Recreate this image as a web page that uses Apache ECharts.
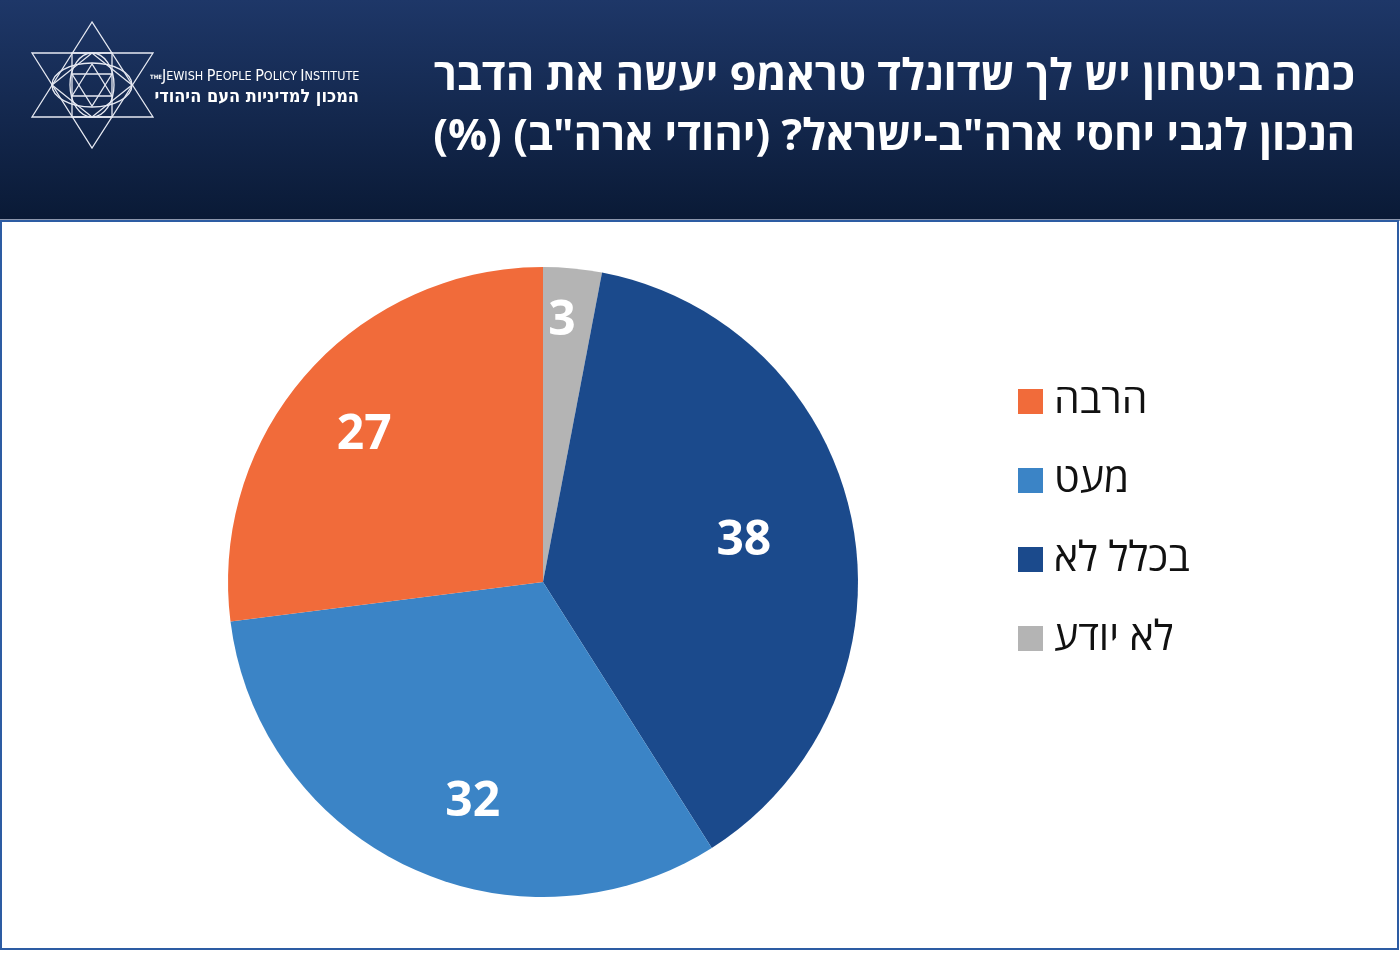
<!DOCTYPE html>
<html>
<head>
<meta charset="utf-8">
<script src="https://cdn.jsdelivr.net/npm/echarts@6/dist/echarts.min.js"></script>
<style>
  html, body { margin: 0; padding: 0; background: #fff; }
  #chart { width: 1400px; height: 953px; }
</style>
</head>
<body>
<div id="chart"></div>
<script>
// 数据 (clockwise from 12 o'clock)
var categories = ['לא יודע', 'בכלל לא', 'מעט', 'הרבה'];
var values = [3, 38, 32, 27];
var colors = ['#b4b4b4', '#1b4a8c', '#3b84c6', '#f16b3a'];
var legendOrder = ['הרבה', 'מעט', 'בכלל לא', 'לא יודע'];
var titleLines = ['כמה ביטחון יש לך שדונלד טראמפ יעשה את הדבר', 'הנכון לגבי יחסי ארה"ב-ישראל? (יהודי ארה"ב) (%)'];
// small label nudges so numbers sit like the original
var labelNudge = [[-3, -29], [-28, 3], [29, 10], [-4, 7]];

var fontHe = '"Open Sans", "Liberation Sans", "DejaVu Sans", sans-serif';

// force right-to-left order for hebrew strings on canvas
function rtl(s) {
  return '\u202B' + s + '\u202C';
}

var chart = echarts.init(document.getElementById('chart'));

// logo lines (decorative)
function logo() {
  var s = { stroke: '#e6e9f2', lineWidth: 1.3, fill: null };
  var els = [];
  els.push({ type: 'polygon', shape: { points: [[92, 22], [32, 117], [153, 117]] }, style: s });
  els.push({ type: 'polygon', shape: { points: [[32, 53], [153, 53], [92, 148]] }, style: s });
  els.push({ type: 'rect', shape: { x: 72, y: 53, width: 40, height: 64 }, style: s });
  els.push({ type: 'polygon', shape: { points: [[92, 64], [72, 96], [112, 96]] }, style: s });
  els.push({ type: 'polygon', shape: { points: [[72, 74], [112, 74], [92, 106]] }, style: s });
  els.push({ type: 'polygon', shape: { points: [[52, 85], [92, 53], [132, 85], [92, 117]] }, style: s });
  els.push({ type: 'ellipse', shape: { cx: 92, cy: 85, rx: 40, ry: 22 }, style: s });
  els.push({ type: 'ellipse', shape: { cx: 92, cy: 85, rx: 22, ry: 32 }, style: s });
  els.push({
    type: 'text', x: 150, y: 77,
    style: {
      text: '{t|THE}{b|J}{s|EWISH }{b|P}{s|EOPLE }{b|P}{s|OLICY }{b|I}{s|NSTITUTE}',
      fill: '#fff', verticalAlign: 'middle',
      rich: {
        t: { fontSize: 6, fill: '#fff', fontFamily: 'Liberation Sans Narrow, DejaVu Sans Condensed', fontWeight: 'bold' },
        b: { fontSize: 16, fill: '#fff', fontFamily: 'Liberation Sans Narrow, DejaVu Sans Condensed' },
        s: { fontSize: 12.5, fill: '#fff', fontFamily: 'Liberation Sans Narrow, DejaVu Sans Condensed' }
      }
    }
  });
  els.push({
    type: 'text', x: 359, y: 97,
    style: { text: rtl('המכון למדיניות העם היהודי'), fill: '#fff', fontSize: 18, fontWeight: 'bold',
      fontFamily: 'Liberation Sans Narrow, DejaVu Sans Condensed', align: 'right', verticalAlign: 'middle' }
  });
  return els;
}

var graphics = [
  {
    type: 'rect', z: -10, shape: { x: 0, y: 0, width: 1400, height: 219 },
    style: { fill: new echarts.graphic.LinearGradient(0, 0, 0, 1, [
      { offset: 0, color: '#1e3768' }, { offset: 1, color: '#0a1a36' }]) }
  },
  { type: 'rect', z: -10, shape: { x: 0, y: 219, width: 1400, height: 2 }, style: { fill: '#8d97ad' } },
  { type: 'rect', z: -9, shape: { x: 1, y: 221, width: 1397, height: 728 }, style: { fill: null, stroke: '#2d5ca3', lineWidth: 2 } },
  {
    type: 'text', x: 1355, y: 78,
    style: { text: rtl(titleLines[0]), fill: '#fff', fontSize: 43.5, fontWeight: 'bold', fontFamily: fontHe, align: 'right', verticalAlign: 'middle' }
  },
  {
    type: 'text', x: 1355, y: 138,
    style: { text: rtl(titleLines[1]), fill: '#fff', fontSize: 43.5, fontWeight: 'bold', fontFamily: fontHe, align: 'right', verticalAlign: 'middle' }
  }
].concat(logo());

var pieData = [];
var labelData = [];
for (var i = 0; i < categories.length; i++) {
  pieData.push({ name: categories[i], value: values[i], itemStyle: { color: colors[i] } });
  labelData.push({ name: categories[i], value: values[i], label: { offset: labelNudge[i] } });
}

var option = {
  animation: false,
  graphic: graphics,
  legend: {
    data: legendOrder,
    orient: 'vertical',
    left: 1018,
    top: 381,
    padding: 0,
    itemWidth: 25,
    itemHeight: 25,
    itemGap: 38,
    icon: 'rect',
    selectedMode: false,
    textStyle: { fontSize: 41, color: '#111', fontFamily: fontHe, padding: [0, 0, 0, 6] }
  },
  series: [
    {
      type: 'pie',
      center: [543, 582],
      radius: [0, 315],
      startAngle: 90,
      clockwise: true,
      silent: true,
      label: { show: false },
      labelLine: { show: false },
      data: pieData
    },
    {
      // transparent ring only carrying value labels
      type: 'pie',
      center: [543, 582],
      radius: [145, 315],
      startAngle: 90,
      clockwise: true,
      silent: true,
      legendHoverLink: false,
      itemStyle: { color: 'rgba(0,0,0,0)' },
      label: {
        show: true, position: 'inside', formatter: '{c}',
        color: '#fff', fontSize: 48, fontWeight: 'bold', fontFamily: fontHe
      },
      labelLine: { show: false },
      data: labelData
    }
  ]
};

chart.setOption(option);
</script>
</body>
</html>
